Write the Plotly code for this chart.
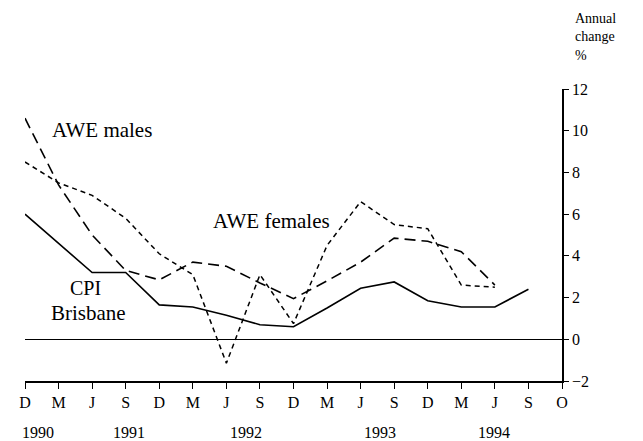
import plotly.graph_objects as go

# Quarterly tick labels, Dec 1990 to O 1994
etiquetas_x = ["D", "M", "J", "S", "D", "M", "J", "S", "D", "M", "J", "S", "D", "M", "J", "S", "O"]
anios = ["1990", "1991", "1992", "1993", "1994"]
pos_anios = [-0.15, 2.56, 6.58, 10.58, 14.5]

# Annual change %
cpi_brisbane = [6.0, 4.6, 3.2, 3.2, 1.65, 1.55, 1.15, 0.7, 0.6, 1.5, 2.45, 2.75, 1.85, 1.55, 1.55, 2.4]
awe_males = [10.6, 7.4, 5.0, 3.3, 2.85, 3.7, 3.5, 2.7, 1.95, 2.8, 3.7, 4.85, 4.7, 4.2, 2.6]
awe_females = [8.5, 7.5, 6.9, 5.8, 4.1, 3.1, -1.15, 3.1, 0.75, 4.5, 6.6, 5.5, 5.3, 2.6, 2.5]

fuente = "Times New Roman, Times, Liberation Serif, serif"

fig = go.Figure()

fig.add_trace(go.Scatter(x=list(range(len(cpi_brisbane))), y=cpi_brisbane, mode="lines",
                         line=dict(color="black", width=1.6), cliponaxis=False))
fig.add_trace(go.Scatter(x=list(range(len(awe_males))), y=awe_males, mode="lines",
                         line=dict(color="black", width=1.6, dash="11px,6px"), cliponaxis=False))
fig.add_trace(go.Scatter(x=list(range(len(awe_females))), y=awe_females, mode="lines",
                         line=dict(color="black", width=1.5, dash="5px,4px"), cliponaxis=False))

# etiquetas de las series
etiquetas = [
    ("AWE males", 0.745, 10.05, "left", 21),
    ("AWE females", 5.54, 5.67, "left", 21),
    ("CPI", 1.79, 2.45, "center", 20),
    ("Brisbane", 1.88, 1.25, "center", 21),
]
for texto, x, y, anc, tam in etiquetas:
    fig.add_annotation(x=x, y=y, text=texto, showarrow=False, xanchor=anc,
                       font=dict(family=fuente, size=tam, color="black"))

# años debajo del eje (en coordenadas de papel para que 1990 no se oculte)
for a, p in zip(anios, pos_anios):
    fig.add_annotation(x=p / 16, y=-0.14, xref="paper", yref="paper", text=a, showarrow=False,
                       yanchor="top", font=dict(family=fuente, size=16, color="black"))

# título del eje, una línea por anotación
for t, yp in zip(["Annual", "change", "%"], [1.243, 1.180, 1.116]):
    fig.add_annotation(x=1.0205, y=yp, xref="paper", yref="paper", xanchor="left",
                       yanchor="middle", text=t, showarrow=False,
                       font=dict(family=fuente, size=14, color="black"))

# la página deja 8px de margen, se compensa aquí
fig.update_layout(
    width=635, height=433,
    margin=dict(l=17, r=81, t=81, b=60),
    plot_bgcolor="white", paper_bgcolor="white",
    showlegend=False,
    font=dict(family=fuente, size=16, color="black"),
    xaxis=dict(range=[0, 16], tickmode="array", tickvals=list(range(17)), ticktext=etiquetas_x,
               showline=True, linecolor="black", linewidth=1.5, ticks="outside", ticklen=6,
               tickcolor="black", showgrid=False, zeroline=False),
    yaxis=dict(range=[-2, 12], dtick=2, side="right", showline=True, linecolor="black",
               linewidth=1.5, ticks="outside", ticklen=5, tickcolor="black", showgrid=False,
               zeroline=True, zerolinecolor="black", zerolinewidth=1.2),
)

fig.write_html("out.html")
